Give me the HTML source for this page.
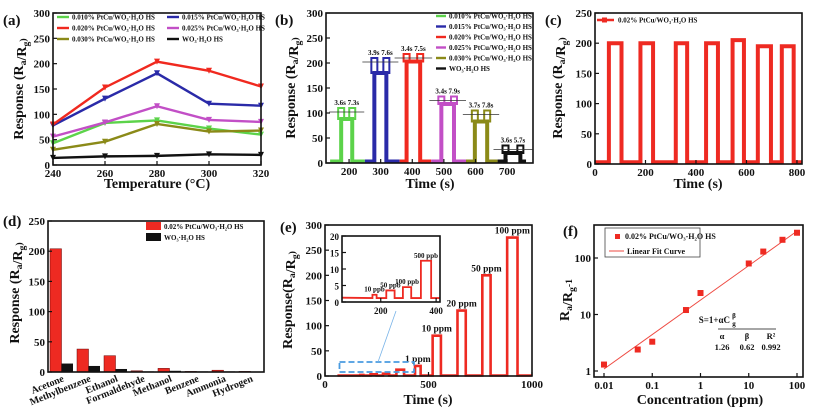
<!DOCTYPE html>
<html><head><meta charset="utf-8"><style>
html,body{margin:0;padding:0;background:#fff;}
svg{display:block;font-family:'Liberation Serif','Times New Roman',Times,serif;}
svg text{font-family:'Liberation Serif','Times New Roman',Times,serif;font-weight:bold;}
</style></head><body>
<svg id="fig" width="813" height="417" viewBox="0 0 813 417" xmlns="http://www.w3.org/2000/svg"></svg>
<script>
// ---- Panel (a) data ----
const aTemps=[240,260,280,300,320];
const aNames=["0.010% PtCu/WO₃·H₂O HS","0.015% PtCu/WO₃·H₂O HS","0.020% PtCu/WO₃·H₂O HS","0.025% PtCu/WO₃·H₂O HS","0.030% PtCu/WO₃·H₂O HS","WO₃·H₂O HS"];
const aColors=["#5cd34a","#2a2aa8","#f0291f","#c24fc6","#8b8a18","#111"];
const aS1=[43,83,88,72,60];
const aS2=[78,131,181,121,117];
const aS3=[80,153,204,186,155];
const aS4=[56,84,116,89,85];
const aS5=[30,46,81,66,68];
const aS6=[14,17,18,21,20];
const aSeries=[aS1,aS2,aS3,aS4,aS5,aS6];
const aXTicks=[240,260,280,300,320];
const aYTicks=[0,50,100,150,200,250,300];
// ---- Panel (b) ----
const bSegStart=[140,250,360,460,570,670];
const bSegEnd=[250,360,460,570,670,760];
const bOn=[175,280,382,492,598,695];
const bOff=[210,318,425,532,637,742];
const bLevel=[88,180,203,118,83,20];
const bSpike=[110,210,218,133,105,35];
const bResp=["3.6s","3.9s","3.4s","3.4s","3.7s","3.6s"];
const bRec=["7.3s","7.6s","7.5s","7.9s","7.8s","5.7s"];
const bXTicks=[200,300,400,500,600,700];
const bYTicks=[0,50,100,150,200,250,300];
// ---- Panel (c) ----
const cOn=[55,180,320,440,545,645,740];
const cOff=[105,230,365,487,590,697,787];
const cLevel=[200,200,200,200,205,195,195];
const cXTicks=[0,200,400,600,800];
const cYTicks=[0,50,100,150,200,250];
// ---- Panel (d) ----
const dGases=["Acetone","Methylbenzene","Ethanol","Formaldehyde","Methanol","Benzene","Ammonia","Hydrogen"];
const dPtCu=[204,38,27,2,6,1,3,1];
const dWO3=[14,10,5,1,2,1,1,0.5];
const dYTicks=[0,50,100,150,200,250];
// ---- Panel (e) ----
const eOn=[435,520,640,760,880];
const eOff=[462,560,680,800,930];
const eLevel=[20,80,130,200,275];
const eLabels=["1 ppm","10 ppm","20 ppm","50 ppm","100 ppm"];
const eSmallOn=[170,220,280,345];
const eSmallOff=[185,250,310,382];
const eSmallLevel=[2.2,3.5,4.5,12.5];
const eSmallLabels=["10 ppb","50 ppb","100 ppb","500 ppb"];
const eXTicks=[0,500,1000];
const eYTicks=[0,50,100,150,200,250,300];
const eInXTicks=[200,400];
const eInYTicks=[0,5,10,15,20];
// ---- Panel (f) ----
const fConc=[0.01,0.05,0.1,0.5,1,10,20,50,100];
const fResp=[1.3,2.4,3.3,12,24,80,130,210,280];
const fFitA=[18];
const fFitB=[0.61];
const fXTicks=[0.01,0.1,1,10,100];
const fXTickLabels=["0.01","0.1","1","10","100"];
const fYTicks=[1,10,100];

const svg=document.getElementById('fig');
const NS="http://www.w3.org/2000/svg";
const FF="'Liberation Serif','Times New Roman',Times,serif";
function el(tag,attrs,parent){const e=document.createElementNS(NS,tag);for(const k in attrs)e.setAttribute(k,attrs[k]);(parent||svg).appendChild(e);return e;}
function txt(x,y,s,size,anchor,parent,extra){const t=el('text',Object.assign({x:x,y:y,'font-size':size,'text-anchor':anchor||'middle',fill:'#111','font-weight':'bold'},extra||{}),parent);t.style.fontFamily=FF;t.textContent=s;return t;}
function lin(d0,d1,r0,r1){return v=>r0+(v-d0)/(d1-d0)*(r1-r0);}
function logs(d0,d1,r0,r1){return v=>r0+(Math.log10(v)-Math.log10(d0))/(Math.log10(d1)-Math.log10(d0))*(r1-r0);}
function frame(g,x0,y0,x1,y1){const r=el('rect',{x:x0,y:y0,width:x1-x0,height:y1-y0,fill:'none',stroke:'#111','stroke-width':1.6},g);}
function xticks(g,ticks,sx,y,labels,size){ticks.forEach((t,i)=>{el('line',{x1:sx(t),x2:sx(t),y1:y,y2:y-4,stroke:'#111','stroke-width':1.2},g);const l=txt(sx(t),y+12,labels?labels[i]:String(t),size||11,'middle',g);});}
function yticks(g,ticks,sy,x,labels,size){ticks.forEach((t,i)=>{el('line',{x1:x,x2:x+4,y1:sy(t),y2:sy(t),stroke:'#111','stroke-width':1.2},g);const l=txt(x-3,sy(t)+4,labels?labels[i]:String(t),size||11,'end',g);});}
function ytitle(g,x,y,parts,size){const t=el('text',{x:0,y:0,'font-size':size||14,'text-anchor':'middle',fill:'#111','font-weight':'bold',transform:`translate(${x},${y}) rotate(-90)`},g);t.style.fontFamily=FF;parts.forEach(p=>{const s=el('tspan',p[1]?{'font-size':(size||14)*0.7,dy:p[1]}:{},t);s.textContent=p[0];});return t;}
function xtitle(g,x,y,s){const t=txt(x,y,s,14,'middle',g);}
function plabel(g,x,y,s){const t=txt(x,y,s,15,'start',g,{'font-weight':'normal'});}
function group(name){const g=el('g',{});return g;}
function pulsePath(sx,sy,x0,x1,on,off,lvl,base){return `M${sx(x0)},${sy(base)}L${sx(on)},${sy(base)}L${sx(on)},${sy(lvl)}L${sx(off)},${sy(lvl)}L${sx(off)},${sy(base)}L${sx(x1)},${sy(base)}`;}
const respParts=[["Response (R"],["a","3"],[""," -3"],["/R"],["g","3"],[")","-3"]];

// ===== (a) =====
(function(){
const g=group('panel-a-temperature-chart');
const sx=lin(240,320,53,261), sy=lin(0,300,165,13);
plabel(g,3,25,'(a)');
aSeries.forEach((s,k)=>{
  const p=el('polyline',{points:s.map((v,i)=>sx(aTemps[i])+','+sy(v)).join(' '),fill:'none',stroke:aColors[k],'stroke-width':2.4},g);
  
  s.forEach((v,i)=>{const m=el('path',{d:`M${sx(aTemps[i])-3},${sy(v)-3}L${sx(aTemps[i])+3},${sy(v)-3}L${sx(aTemps[i])},${sy(v)+3}Z`,fill:aColors[k]},g);});
});
frame(g,53,13,261,165);
xticks(g,aXTicks,sx,165);yticks(g,aYTicks,sy,53);
ytitle(g,23,89,respParts);xtitle(g,157,188,'Temperature (°C)');
aNames.forEach((n,k)=>{const col=k%2,row=Math.floor(k/2);const x=57+col*110,y=17+row*11;
  const le=el('g',{},g);
  el('line',{x1:x,x2:x+12,y1:y,y2:y,stroke:aColors[k],'stroke-width':2.4},le);
  txt(x+15,y+2.5,n,7,'start',le);});
})();

// ===== (b) =====
(function(){
const g=group('panel-b-transient-chart');
const sx=lin(127,782,326,533), sy=lin(0,300,163,13);
plabel(g,275,25,'(b)');
bOn.forEach((on,k)=>{
  const p=el('path',{d:pulsePath(sx,sy,bSegStart[k],bSegEnd[k],on,bOff[k],bLevel[k],3),fill:'none',stroke:aColors[k],'stroke-width':4},g);
  
  [on,bOff[k]].forEach(t=>{el('rect',{x:sx(t)-3,y:sy(bSpike[k]),width:6,height:sy(bLevel[k])-sy(bSpike[k]),fill:'none',stroke:aColors[k],'stroke-width':2},g);});
  el('line',{x1:sx(on)-12,x2:sx(bOff[k])+12,y1:sy(bSpike[k]-8),y2:sy(bSpike[k]-8),stroke:'#333','stroke-width':0.8},g);
  const t=txt((sx(on)+sx(bOff[k]))/2,sy(bSpike[k])-3,bResp[k]+' '+bRec[k],7,'middle',g);
});
frame(g,326,13,533,163);
xticks(g,bXTicks,sx,163);yticks(g,bYTicks,sy,326);
ytitle(g,295,88,respParts);xtitle(g,430,188,'Time (s)');
aNames.forEach((n,k)=>{const x=436,y=16+k*10.5;const le=el('g',{},g);
  el('line',{x1:x,x2:x+10,y1:y,y2:y,stroke:aColors[k],'stroke-width':2.4},le);txt(x+13,y+2.5,n,7,'start',le);});
})();

// ===== (c) =====
(function(){
const g=group('panel-c-repeatability-chart');
const sx=lin(0,820,595,802), sy=lin(0,250,164,13);
plabel(g,545,25,'(c)');
let d=`M${sx(0)},${sy(3)}`;
cOn.forEach((on,k)=>{d+=`L${sx(on)},${sy(3)}L${sx(on)},${sy(cLevel[k])}L${sx(cOff[k])},${sy(cLevel[k])}L${sx(cOff[k])},${sy(3)}`;});
d+=`L${sx(820)},${sy(3)}`;
const p=el('path',{d:d,fill:'none',stroke:'#ee2a22','stroke-width':4},g);
frame(g,595,13,802,164);
xticks(g,cXTicks,sx,164);yticks(g,cYTicks,sy,595);
ytitle(g,562,88,respParts);xtitle(g,698,188,'Time (s)');
const le=el('g',{},g);
el('line',{x1:597,x2:614,y1:20,y2:20,stroke:'#ee2a22','stroke-width':2.4},le);el('rect',{x:602,y:17.5,width:5,height:5,fill:'#ee2a22'},le);
txt(618,22.5,'0.02% PtCu/WO₃·H₂O HS',7,'start',le);
})();

// ===== (d) =====
(function(){
const g=group('panel-d-selectivity-chart');
const x0=48,x1=264, sy=lin(0,250,372,221);
const bw=(x1-x0)/dGases.length;
plabel(g,3,226,'(d)');
dGases.forEach((n,i)=>{const cx=x0+bw*i;
  const r1=el('rect',{x:cx+2,y:sy(dPtCu[i]),width:bw/2-2,height:sy(0)-sy(dPtCu[i]),fill:'#ee2a22',stroke:'#600','stroke-width':0.5},g);
  const r2=el('rect',{x:cx+bw/2,y:sy(dWO3[i]),width:bw/2-2,height:sy(0)-sy(dWO3[i]),fill:'#111'},g);
  const t=txt(cx+bw/2+3,381,n,10,'end',g,{transform:`rotate(-22 ${cx+bw/2+3} 381)`});
});
frame(g,x0,221,x1,372);
yticks(g,dYTicks,sy,x0);
ytitle(g,19,293,respParts);
const l1=el('g',{},g);
el('rect',{x:146,y:222,width:15,height:8,fill:'#ee2a22'},l1);txt(164,229,'0.02% PtCu/WO₃·H₂O HS',7,'start',l1);
const l2=el('g',{},g);
el('rect',{x:146,y:233,width:15,height:8,fill:'#111'},l2);txt(164,240,'WO₃·H₂O HS',7,'start',l2);
})();

// ===== (e) =====
(function(){
const g=group('panel-e-concentration-chart');
const sx=lin(0,1000,325,532), sy=lin(0,300,376,225);
plabel(g,280,232,'(e)');
let d=`M${sx(60)},${sy(1)}`;
eSmallOn.forEach((on,k)=>{d+=`L${sx(on)},${sy(1)}L${sx(on)},${sy(eSmallLevel[k])}L${sx(eSmallOff[k])},${sy(eSmallLevel[k])}L${sx(eSmallOff[k])},${sy(1)}`;});
eOn.forEach((on,k)=>{d+=`L${sx(on)},${sy(1)}L${sx(on)},${sy(eLevel[k])}L${sx(eOff[k])},${sy(eLevel[k])}L${sx(eOff[k])},${sy(1)}`;
  const t=txt((sx(on)+sx(eOff[k]))/2,sy(eLevel[k])-4,eLabels[k],9.5,'middle',g);});
d+=`L${sx(1000)},${sy(1)}`;
const p=el('path',{d:d,fill:'none',stroke:'#ee2a22','stroke-width':2.6},g);
frame(g,325,225,532,376);
xticks(g,eXTicks,sx,376);yticks(g,eYTicks,sy,325);
ytitle(g,292,300,[["Response(R"],["a","3"],[""," -3"],["/R"],["g","3"],[")","-3"]]);xtitle(g,428,404,'Time (s)');
const zr=el('rect',{x:sx(70),y:362,width:sx(430)-sx(70),height:10,fill:'none',stroke:'#4a9be0','stroke-width':1.8,'stroke-dasharray':'6 3'},g);
el('line',{x1:378,y1:362,x2:396,y2:311,stroke:'#7ab4e8','stroke-width':0.8},g);
// inset
const ig=el('g',{},g);
const ix=lin(60,414,342,440), iy=lin(0,20,302,236);
el('rect',{x:342,y:236,width:98,height:66,fill:'#fff'},ig);
let di=`M${ix(60)},${iy(1.3)}`;
eSmallOn.forEach((on,k)=>{di+=`L${ix(on)},${iy(1.2)}L${ix(on)},${iy(eSmallLevel[k])}L${ix(eSmallOff[k])},${iy(eSmallLevel[k])}L${ix(eSmallOff[k])},${iy(1.2)}`;
  const t=txt((ix(on)+ix(eSmallOff[k]))/2,iy(eSmallLevel[k])-3,eSmallLabels[k],7,'middle',ig,{'font-weight':'normal'});});
di+=`L${ix(414)},${iy(1.2)}`;
el('path',{d:di,fill:'none',stroke:'#ee2a22','stroke-width':1.8},ig);
frame(ig,342,236,440,302);
xticks(ig,eInXTicks,ix,302,null,9);yticks(ig,eInYTicks,iy,342,null,9);
})();

// ===== (f) =====
(function(){
const g=group('panel-f-fit-chart');
const sx=logs(0.01,100,604,797), sy=logs(1,100,371,258);
plabel(g,563,236,'(f)');
const fx0=fConc[0], fx1=fConc[fConc.length-1];
const fit=el('line',{x1:sx(fx0),y1:sy(fFitA[0]*Math.pow(fx0,fFitB[0])),x2:sx(fx1),y2:sy(fFitA[0]*Math.pow(fx1,fFitB[0])),stroke:'#ee4a42','stroke-width':1},g);

fConc.forEach((c,i)=>{const m=el('rect',{x:sx(c)-3,y:sy(fResp[i])-3,width:6,height:6,fill:'#ee2a22'},g);});
frame(g,594,225,803,377);
xticks(g,fXTicks,sx,377,fXTickLabels);yticks(g,fYTicks,sy,594);
ytitle(g,569,300,[["R"],["a","3"],[""," -3"],["/R"],["g","3"],["-1","-3"]]);xtitle(g,700,404,'Concentration (ppm)');
const lg=el('g',{},g);
el('rect',{x:605,y:228,width:95,height:29,fill:'#fff',stroke:'#444','stroke-width':0.8},lg);
el('rect',{x:615,y:234,width:5,height:5,fill:'#ee2a22'},lg);txt(625,239,'0.02% PtCu/WO₃-H₂O HS',8,'start',lg);
el('line',{x1:609,x2:624,y1:251,y2:251,stroke:'#ee4a42','stroke-width':1},lg);txt(627,254,'Linear Fit Curve',8,'start',lg);
const eq=el('g',{},g);
txt(730,323,'S=1+αC',9,'end',eq);txt(734,318,'β',7,'middle',eq);txt(734,326,'g',7,'middle',eq);
el('line',{x1:718,x2:776,y1:329,y2:329,stroke:'#111','stroke-width':0.8},eq);
txt(722,339,'α',8.5,'middle',eq);txt(747,339,'β',8.5,'middle',eq);txt(771,339,'R²',8.5,'middle',eq);
txt(722,350,'1.26',8.5,'middle',eq);txt(747,350,'0.62',8.5,'middle',eq);txt(771,350,'0.992',8.5,'middle',eq);
})();
</script>
</body></html>
